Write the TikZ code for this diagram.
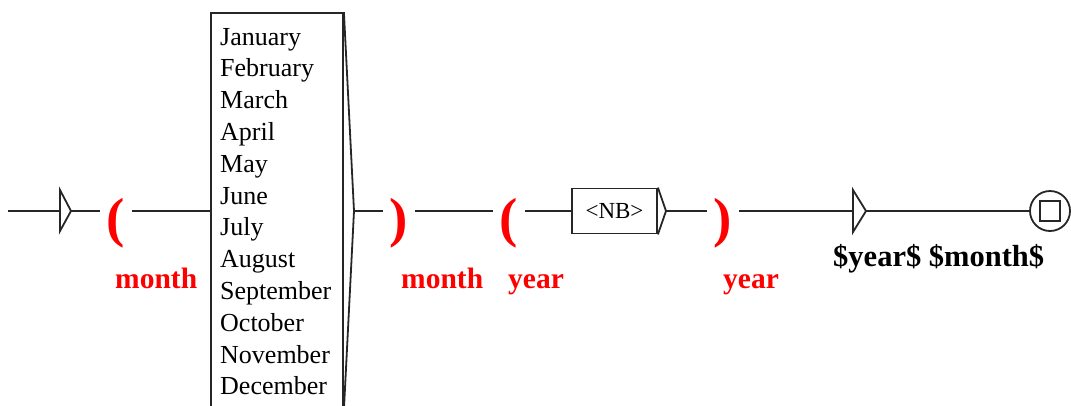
\documentclass[tikz,border=0pt]{standalone}
\usepackage{fontspec}
\setmainfont{Liberation Serif}
\begin{document}
\begin{tikzpicture}[x=1pt,y=-1pt,
  ln/.style={line width=1.8pt, draw=black!85},
  paren/.style={text=red, font=\fontsize{55}{55}\bfseries\selectfont, inner sep=0pt, minimum width=32pt, text height=50pt, text depth=0pt},
  varlabel/.style={text=red, font=\fontsize{29.5}{29.5}\bfseries\selectfont, anchor=base west, inner sep=0pt},
  outlabel/.style={text=black, font=\fontsize{30.5}{30.5}\bfseries\selectfont, anchor=base west, inner sep=0pt},
  monthtext/.style={font=\fontsize{26}{26}\selectfont, anchor=base west, inner sep=0pt}]
\useasboundingbox (0,0) rectangle (1071,405);
\clip (0,0) rectangle (1071,405);
% initial state
\coordinate (s0) at (8,211);
\coordinate (i1) at (60,211);
\coordinate (i2) at (71,211);
\draw[ln, line join=miter] (60,190) -- (i2) -- (60,231) -- cycle;
\draw[ln] (s0) -- (i1);
% parens
\node[paren] (p1) at (116,211) {(};
\node[paren] (p2) at (399,211) {)};
\node[paren] (p3) at (509,211) {(};
\node[paren] (p4) at (723,211) {)};
% variable labels
\node[varlabel] (l1) at (115,288) {month};
\node[varlabel] (l2) at (401,288) {month};
\node[varlabel] (l3) at (508,288) {year};
\node[varlabel] (l4) at (723,288) {year};
% months box
\node[ln, draw, fill=white, minimum width=132pt, minimum height=396pt, inner sep=0pt] (mbox) at (277,211) {};
\coordinate (mtip) at (354,211);
\draw[ln] (mbox.north east) -- (mtip) -- (mbox.south east);
\foreach \m [count=\i from 0] in {January,February,March,April,May,June,July,August,September,October,November,December}
  \node[monthtext] (m\i) at (220,{45+31.8*\i}) {\m};
% NB box
\node[ln, draw, minimum width=85pt, minimum height=45pt, inner sep=0pt, font=\fontsize{23}{23}\selectfont] (nb) at (614.5,211) {<NB>};
\coordinate (nbtip) at (666,211);
\draw[ln] (nb.north east) -- (nbtip) -- (nb.south east);
% output triangle
\coordinate (o1) at (853,211);
\coordinate (o2) at (866,211);
\draw[ln, line join=miter] (853,190) -- (o2) -- (853,232) -- cycle;
\node[outlabel] (out) at (833,266) {\$year\$ \$month\$};
% final state
\node[ln, draw, circle, minimum size=40pt, inner sep=0pt] (fin) at (1050,211) {};
\node[ln, draw, minimum size=20pt, inner sep=0pt] (fsq) at (fin.center) {};
% connectors
\draw[ln] (i2) -- (p1);
\draw[ln] (p1) -- (mbox.west);
\draw[ln] (mtip) -- (p2);
\draw[ln] (p2) -- (p3);
\draw[ln] (p3) -- (nb.west);
\draw[ln] (nbtip) -- (p4);
\draw[ln] (p4) -- (o1);
\draw[ln] (o2) -- (fin);
\end{tikzpicture}
\end{document}
